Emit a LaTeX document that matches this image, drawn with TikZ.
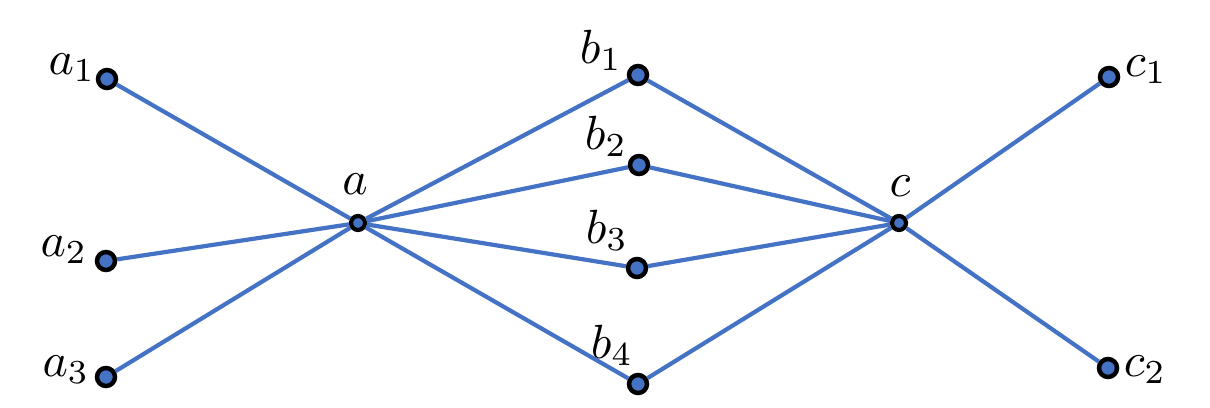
\documentclass[tikz,border=0pt]{standalone}
\usepackage{graphicx}
\newcommand{\biglab}[1]{\scalebox{4.8}{$#1$}}
\begin{document}
\begin{tikzpicture}[x=1pt,y=-1pt,
  dot/.style={circle,draw=black,line width=4.5pt,fill=myblue,minimum size=18pt,inner sep=0pt},
  hub/.style={circle,draw=black,line width=4.2pt,fill=myblue,minimum size=14pt,inner sep=0pt},
  lab/.style={anchor=base,inner sep=0pt},
  edge/.style={draw=myblue,line width=4.2pt}]
\definecolor{myblue}{HTML}{4472C4}
\useasboundingbox (0,0) rectangle (1210,407);
\node[dot] (a1) at (107,79) {};
\node[dot] (a2) at (106,261) {};
\node[dot] (a3) at (106,377) {};
\node[hub] (a) at (358,223) {};
\node[dot] (b1) at (638,75) {};
\node[dot] (b2) at (639,165) {};
\node[dot] (b3) at (637,268) {};
\node[dot] (b4) at (638,384) {};
\node[hub] (c) at (899,223) {};
\node[dot] (c1) at (1109,77) {};
\node[dot] (c2) at (1108,368) {};
\node[lab] (la1) at (72,74) {\biglab{a_1}};
\node[lab] (la2) at (64,256) {\biglab{a_2}};
\node[lab] (la3) at (66,376) {\biglab{a_3}};
\node[lab] (la) at (355,194) {\biglab{a}};
\node[lab] (lb1) at (601,63) {\biglab{b_1}};
\node[lab] (lb2) at (606,149) {\biglab{b_2}};
\node[lab] (lb3) at (607,243) {\biglab{b_3}};
\node[lab] (lb4) at (612,358) {\biglab{b_4}};
\node[lab] (lc) at (900,196) {\biglab{c}};
\node[lab] (lc1) at (1146,76) {\biglab{c_1}};
\node[lab] (lc2) at (1145,376) {\biglab{c_2}};
\foreach \u/\v in {a1/a,a2/a,a3/a,a/b1,a/b2,a/b3,a/b4,b1/c,b2/c,b3/c,b4/c,c/c1,c/c2}
  \draw[edge] (\u) -- (\v);
\end{tikzpicture}
\end{document}
